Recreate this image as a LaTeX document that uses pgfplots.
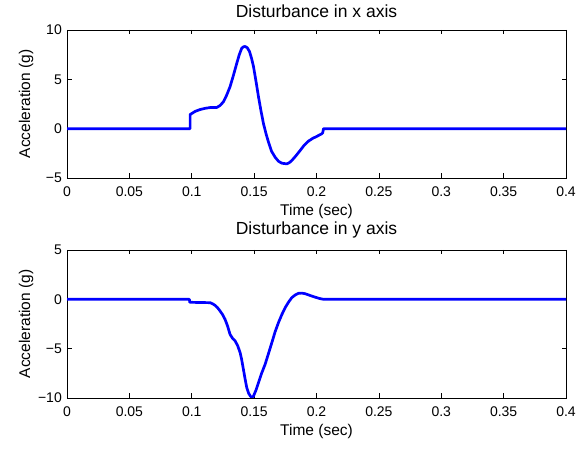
\documentclass[border=0pt]{standalone}
\usepackage{fontspec}
\setmainfont{Liberation Sans}
\usepackage{pgfplots}
\pgfplotsset{compat=1.18}

\pgfplotsset{
  dist/.style={
    width=499pt, height=148pt, scale only axis,
    xmin=0, xmax=0.4,
    xtick={0,0.05,...,0.4},
    xticklabels={0,0.05,0.1,0.15,0.2,0.25,0.3,0.35,0.4},
    tick align=inside, tick pos=both,
    major tick length=4.5pt,
    axis line style={line width=0.8pt},
    every tick/.style={black,line width=0.6pt},
    tick label style={font=\fontsize{14}{16}\selectfont},
    xticklabel style={anchor=base, yshift=-19pt},
    yticklabel style={anchor=east, inner sep=0pt, xshift=-5pt},
    label style={font=\fontsize{15.5}{18}\selectfont},
    xlabel={Time (sec)}, ylabel={Acceleration (g)},
    xlabel style={at={(axis description cs:0.5,-0.252)}, anchor=base},
    ylabel style={at={(axis description cs:-0.074,0.5)}, anchor=base},
    title style={font=\fontsize{17.5}{20}\selectfont, anchor=base, yshift=-8pt},
    no markers,
    every axis plot/.append style={blue, line width=2.7pt, line join=round},
  }
}

\begin{document}
\begin{tikzpicture}
\useasboundingbox (0,0) rectangle (588pt,449pt);

\begin{axis}[dist,
  at={(67pt,271pt)}, anchor=south west,
  ymin=-5, ymax=10, ytick={-5,0,5,10},
  yticklabels={−5,0,5,10},
  title={Disturbance in x axis},
  title style={at={(axis description cs:0.5,1.095)}},
]
\addplot coordinates {
 (0,0) (0.0987,0) (0.0987,1.43) (0.1027,1.75) (0.1067,1.94) (0.1107,2.06)
 (0.1147,2.14) (0.1200,2.14) (0.1227,2.35) (0.1254,2.72) (0.1280,3.40)
 (0.1307,4.25) (0.1334,5.40) (0.1361,6.63) (0.1381,7.50) (0.1401,8.16)
 (0.1415,8.30) (0.1428,8.33) (0.1445,8.20) (0.1463,7.82) (0.1480,7.10)
 (0.1495,6.29) (0.1515,4.80) (0.1535,3.23) (0.1555,1.80) (0.1575,0.51)
 (0.1595,-0.50) (0.1615,-1.36) (0.1640,-2.30) (0.1668,-2.89) (0.1695,-3.30)
 (0.1722,-3.50) (0.1762,-3.57) (0.1782,-3.45) (0.1802,-3.23) (0.1835,-2.75)
 (0.1869,-2.21) (0.1900,-1.70) (0.1936,-1.26) (0.1970,-0.98) (0.2003,-0.78)
 (0.2043,-0.51) (0.2050,-0.40) (0.2056,0) (0.4,0)
};
\end{axis}

\begin{axis}[dist,
  at={(67pt,51pt)}, anchor=south west,
  ymin=-10, ymax=5, ytick={-10,-5,0,5},
  yticklabels={−10,−5,0,5},
  title={Disturbance in y axis},
  title style={at={(axis description cs:0.5,1.115)}},
]
\addplot coordinates {
 (0,0) (0.0981,0) (0.0984,-0.30) (0.1147,-0.34) (0.1167,-0.45) (0.1187,-0.61)
 (0.1207,-0.85) (0.1227,-1.18) (0.1247,-1.55) (0.1267,-2.03) (0.1287,-2.70)
 (0.1307,-3.55) (0.1327,-3.95) (0.1348,-4.22) (0.1368,-4.70) (0.1388,-5.41)
 (0.1400,-6.10) (0.1414,-7.09) (0.1428,-8.10) (0.1441,-8.95) (0.1457,-9.55)
 (0.1473,-9.86) (0.1485,-9.92) (0.1495,-9.80) (0.1515,-9.20) (0.1535,-8.45)
 (0.1560,-7.50) (0.1588,-6.59) (0.1615,-5.50) (0.1642,-4.39) (0.1668,-3.30)
 (0.1695,-2.36) (0.1722,-1.55) (0.1749,-0.84) (0.1775,-0.30) (0.1802,0.17)
 (0.1830,0.45) (0.1856,0.61) (0.1882,0.63) (0.1909,0.57) (0.1940,0.43)
 (0.1976,0.27) (0.2020,0.10) (0.2056,0) (0.4,0)
};
\end{axis}
\end{tikzpicture}
\end{document}
